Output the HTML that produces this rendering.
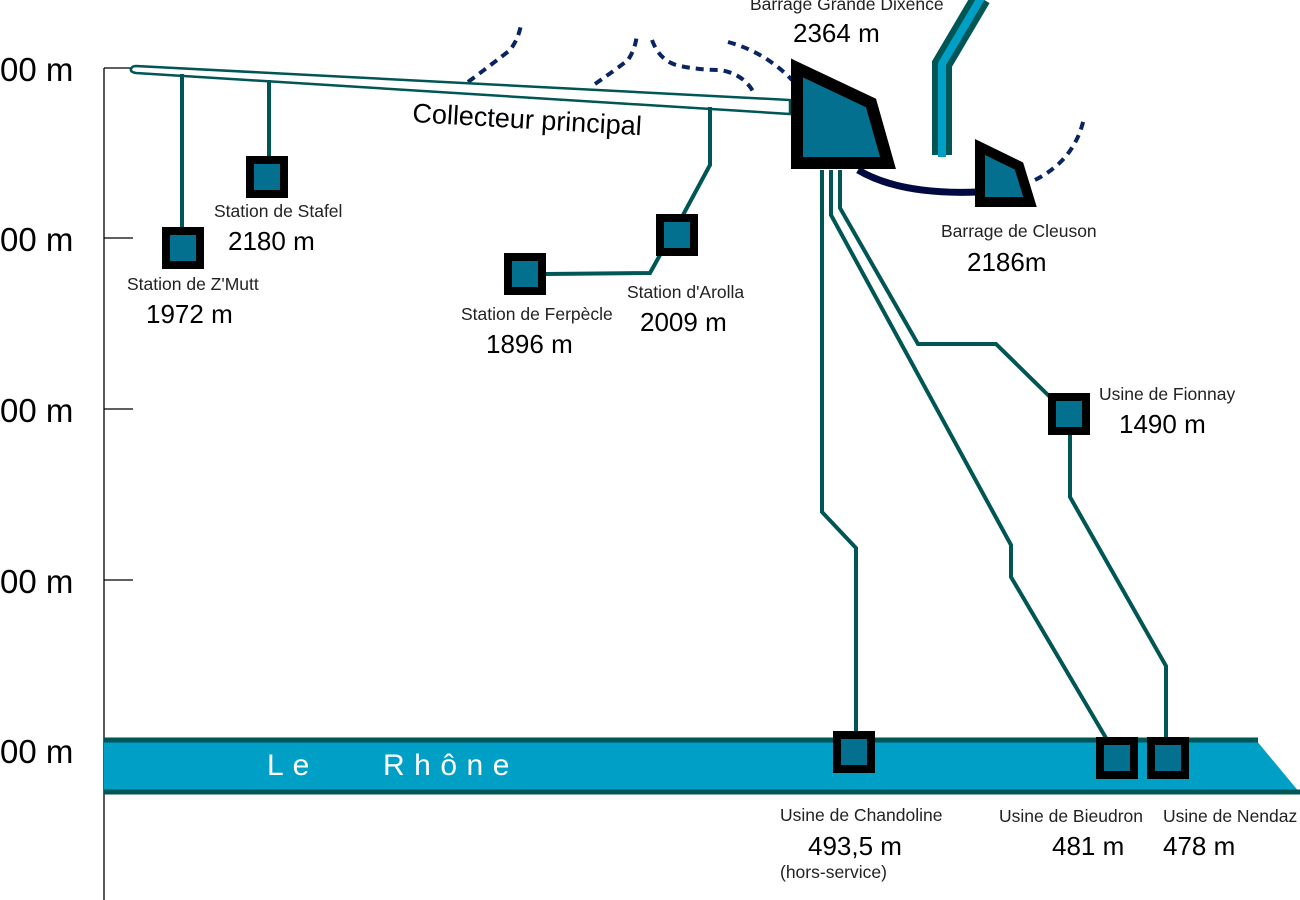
<!DOCTYPE html>
<html><head><meta charset="utf-8"><style>
html,body{margin:0;padding:0;background:#fff;width:1300px;height:900px;overflow:hidden}
svg{display:block}
text{font-family:"Liberation Sans",Arial,sans-serif;fill:#000}
.s{font-size:17.5px;fill:#222}
.v{font-size:26px}
.ax{font-size:33px}
</style></head><body>
<svg width="1300" height="900" viewBox="0 0 1300 900" xmlns="http://www.w3.org/2000/svg">
<g stroke="#000" stroke-width="1.3">
<line x1="104" y1="68" x2="104" y2="900"/>
<line x1="104" y1="68" x2="133" y2="68"/>
<line x1="104" y1="238" x2="133" y2="238"/>
<line x1="104" y1="409" x2="133" y2="409"/>
<line x1="104" y1="580" x2="133" y2="580"/>
<line x1="104" y1="750" x2="133" y2="750"/>
</g>
<text class="ax" x="0" y="81">00 m</text>
<text class="ax" x="0" y="251">00 m</text>
<text class="ax" x="0" y="422">00 m</text>
<text class="ax" x="0" y="593">00 m</text>
<text class="ax" x="0" y="763">00 m</text>

<polygon points="104,740 1256,740 1300,793 104,793" fill="#00a0c6"/>
<line x1="104" y1="740" x2="1258" y2="740" stroke="#005555" stroke-width="5"/>
<line x1="104" y1="792" x2="1300" y2="792" stroke="#005555" stroke-width="5"/>
<text x="267" y="775" font-size="30" style="fill:#fff;letter-spacing:9px">Le</text>
<text x="383" y="775" font-size="30" style="fill:#fff;letter-spacing:9.5px">Rhône</text>

<g fill="none" stroke="#0a2462" stroke-width="4" stroke-dasharray="8,6">
<path d="M468,82 Q495,62 510,50 Q518,40 521,25"/>
<path d="M595,84 Q618,68 628,60 Q636,48 637,33"/>
<path d="M652,40 Q660,62 680,66 Q700,70 720,70 Q745,74 755,95"/>
<path d="M728,42 Q765,52 792,80"/>
<path d="M1035,180 Q1075,160 1084,118"/>
</g>

<path d="M136,66 L790,100 L790,114 L136,73 Q130,72 131,69 Q132,66 136,66 Z" fill="#fff" stroke="#005555" stroke-width="2.5"/>
<text x="412" y="122" font-size="27" transform="rotate(3.3 412 122)">Collecteur principal</text>

<g fill="none" stroke="#005555" stroke-width="4">
<line x1="182" y1="74" x2="182" y2="230"/>
<line x1="269" y1="80" x2="269" y2="158"/>
<polyline points="710,107 710,165 683,215"/>
<polyline points="545,274 650,273 660,255"/>
<polyline points="822,170 822,512 856,548 856,733"/>
<polyline points="831,170 831,215 1011,545 1011,577 1106,738"/>
<polyline points="840,170 840,208 918,344 996,344 1050,397"/>
<polyline points="1070,433 1070,497 1166,666 1166,740"/>
</g>

<path d="M942,155 L942,64 L981,-2" fill="none" stroke="#005555" stroke-width="20" stroke-linecap="butt"/>
<path d="M942,157 L942,64 L981,-2" fill="none" stroke="#00a0c6" stroke-width="8" stroke-linecap="butt"/>

<path d="M858,170 Q900,195 978,192" fill="none" stroke="#000a40" stroke-width="7"/>

<polygon points="797,68 871,103 888,163 797,163" fill="#047090" stroke="#000" stroke-width="12" stroke-linejoin="miter"/>
<polygon points="980,147 1019,166 1030,202 980,202" fill="#047090" stroke="#000" stroke-width="10" stroke-linejoin="miter"/>

<g fill="#047090" stroke="#000" stroke-width="8">
<rect x="250" y="160" width="34" height="34"/>
<rect x="166" y="231" width="34" height="34"/>
<rect x="660" y="218" width="34" height="34"/>
<rect x="508" y="257" width="34" height="34"/>
<rect x="1052" y="397" width="34" height="34"/>
<rect x="837" y="735" width="34" height="34"/>
<rect x="1100" y="741" width="34" height="34"/>
<rect x="1151" y="741" width="34" height="34"/>
</g>

<text class="s" x="750" y="10">Barrage Grande Dixence</text>
<text class="v" x="793" y="42">2364 m</text>
<text class="s" x="214" y="217">Station de Stafel</text>
<text class="v" x="228" y="250">2180 m</text>
<text class="s" x="127" y="290">Station de Z'Mutt</text>
<text class="v" x="146" y="323">1972 m</text>
<text class="s" x="627" y="298">Station d'Arolla</text>
<text class="v" x="640" y="331">2009 m</text>
<text class="s" x="461" y="320">Station de Ferpècle</text>
<text class="v" x="486" y="353">1896 m</text>
<text class="s" x="941" y="237">Barrage de Cleuson</text>
<text class="v" x="967" y="271">2186m</text>
<text class="s" x="1099" y="400">Usine de Fionnay</text>
<text class="v" x="1119" y="433">1490 m</text>
<text class="s" x="780" y="821">Usine de Chandoline</text>
<text class="v" x="808" y="855">493,5 m</text>
<text class="s" x="780" y="878">(hors-service)</text>
<text class="s" x="999" y="822">Usine de Bieudron</text>
<text class="v" x="1052" y="855">481 m</text>
<text class="s" x="1163" y="822">Usine de Nendaz</text>
<text class="v" x="1163" y="855">478 m</text>
</svg>
</body></html>
